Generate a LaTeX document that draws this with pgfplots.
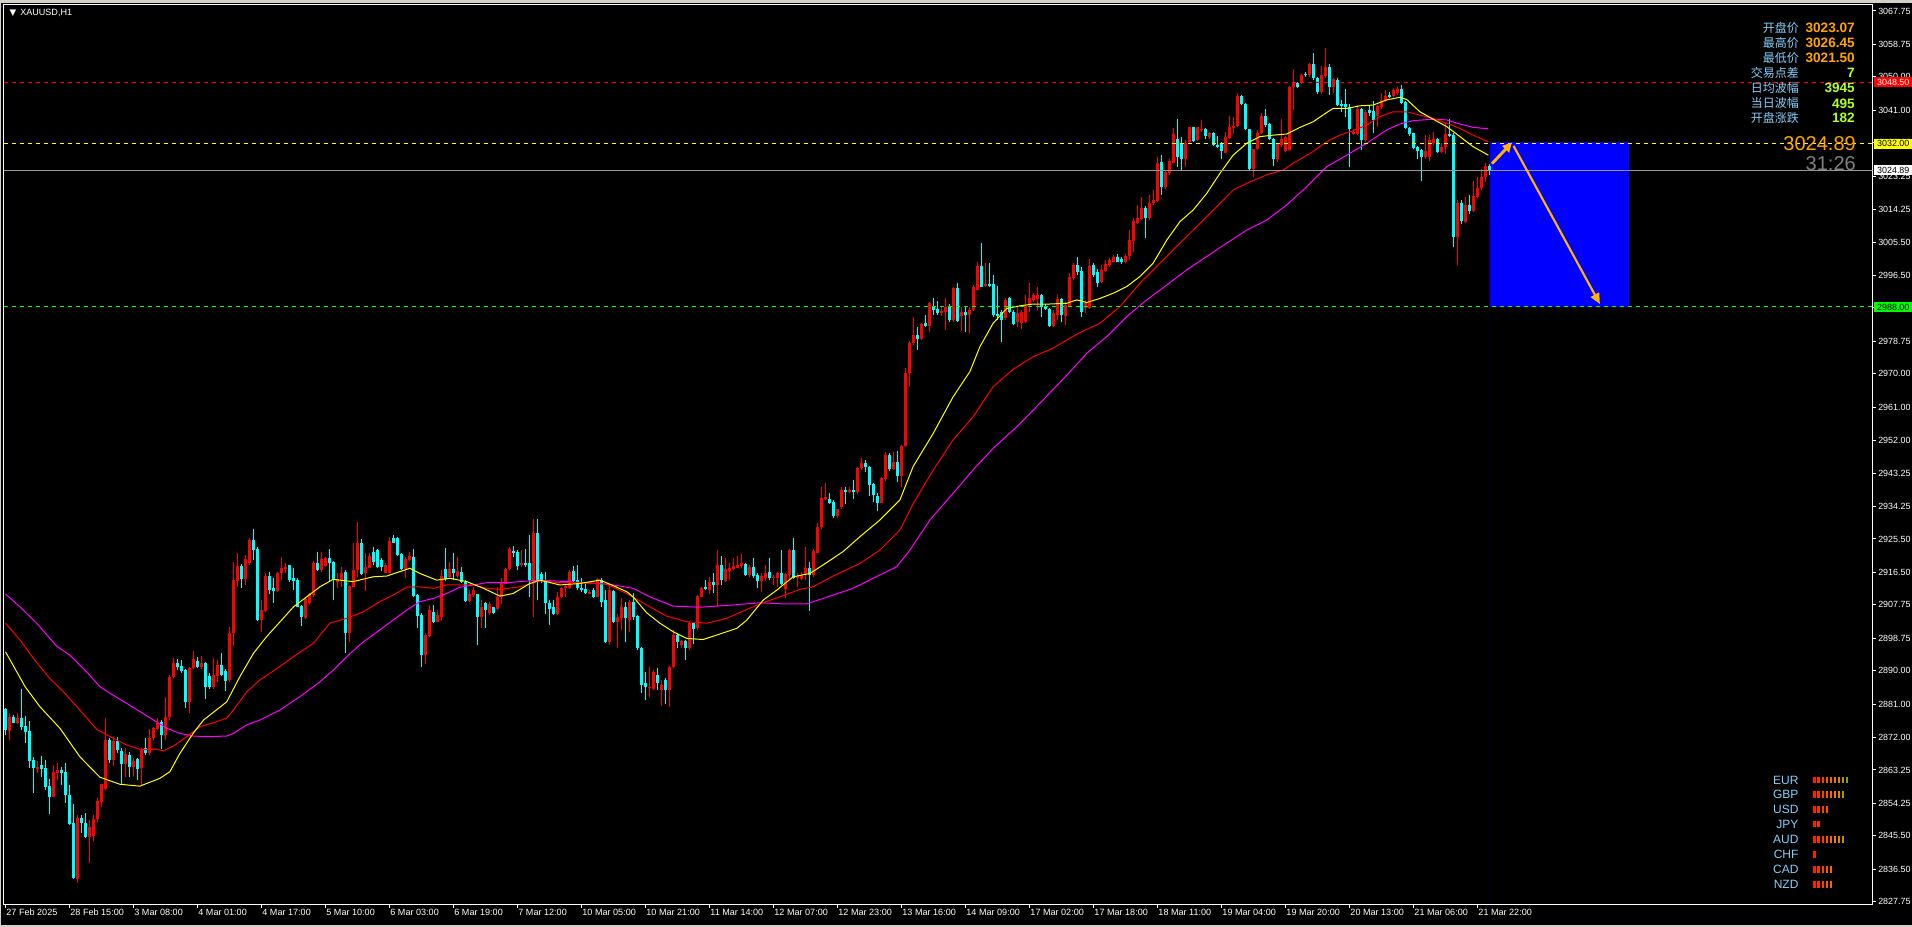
\documentclass[border=0pt]{standalone}
\usepackage{fontspec}
\setmainfont{Liberation Sans}
\newfontfamily\cjk{Noto Sans CJK SC}
\newfontfamily\dejavu{DejaVu Sans}
\usepackage{pgfplots}
\usepackage{pgfplotstable}
\pgfplotsset{compat=1.18}
\usetikzlibrary{arrows.meta}
\definecolor{mtcyan}{RGB}{0,255,255}
\definecolor{mtred}{RGB}{255,0,0}
\definecolor{mtyellow}{RGB}{255,255,0}
\definecolor{mtmag}{RGB}{255,0,255}
\definecolor{mtgreen}{RGB}{0,255,0}
\definecolor{mtblue}{RGB}{0,0,255}
\definecolor{mtgrey}{RGB}{150,150,150}
\definecolor{mtorange}{RGB}{255,165,0}
\definecolor{arrowor}{RGB}{255,180,0}
\definecolor{lblue}{RGB}{135,206,250}
\definecolor{gyellow}{RGB}{173,255,47}
\definecolor{winborder}{RGB}{212,208,200}
\pgfplotsset{colormap={strength}{rgb255=(255,32,0) rgb255=(255,45,0) rgb255=(255,62,0) rgb255=(255,80,0) rgb255=(255,100,0) rgb255=(240,120,0) rgb255=(220,135,0) rgb255=(170,155,0) rgb255=(130,165,0)}}

\pgfplotstableread{
i o h l c
0 2879.6 2879.9 2872.7 2874.0
1 2873.8 2878.5 2871.3 2877.6
2 2877.4 2878.1 2875.8 2876.0
3 2876.0 2878.5 2875.6 2877.2
4 2877.2 2885.2 2874.0 2874.9
5 2875.1 2877.8 2870.6 2873.6
6 2873.7 2876.5 2863.7 2865.7
7 2865.9 2866.8 2857.1 2863.7
8 2863.6 2865.7 2862.3 2864.1
9 2864.6 2867.0 2861.4 2863.6
10 2863.9 2865.9 2857.8 2858.7
11 2858.9 2860.7 2851.3 2856.1
12 2856.1 2864.6 2856.1 2862.8
13 2862.5 2865.2 2860.5 2863.2
14 2863.2 2864.1 2859.2 2862.5
15 2862.7 2865.0 2854.4 2856.6
16 2856.6 2859.2 2848.4 2848.6
17 2849.0 2854.1 2833.8 2834.2
18 2834.0 2851.1 2832.9 2850.2
19 2850.4 2851.1 2846.2 2848.9
20 2849.0 2851.6 2844.8 2845.3
21 2845.3 2849.8 2838.3 2848.0
22 2845.4 2851.1 2844.2 2850.0
23 2850.0 2855.6 2849.3 2854.9
24 2854.7 2859.6 2853.4 2859.5
25 2858.2 2877.2 2857.8 2871.3
26 2871.3 2871.8 2865.0 2865.9
27 2865.9 2872.2 2864.3 2871.1
28 2871.1 2872.2 2867.7 2868.5
29 2868.5 2869.1 2859.2 2865.0
30 2865.0 2869.1 2861.4 2867.5
31 2867.3 2868.2 2861.4 2864.1
32 2864.1 2866.4 2861.6 2865.6
33 2866.1 2866.6 2860.5 2863.4
34 2863.7 2869.1 2858.9 2868.8
35 2869.1 2871.8 2867.3 2867.7
36 2867.7 2874.2 2867.3 2872.0
37 2871.8 2874.9 2871.3 2874.5
38 2874.2 2877.2 2874.0 2876.0
39 2876.2 2876.7 2868.8 2872.7
40 2872.7 2883.0 2871.3 2877.4
41 2877.4 2888.8 2876.7 2888.4
42 2888.2 2893.3 2887.9 2892.0
43 2892.0 2893.1 2890.2 2891.1
44 2891.3 2892.9 2889.3 2890.0
45 2890.2 2890.6 2879.9 2881.6
46 2881.6 2891.1 2878.5 2890.6
47 2890.6 2895.4 2890.6 2893.1
48 2892.6 2893.8 2890.6 2891.1
49 2891.1 2893.9 2890.6 2892.2
50 2892.0 2892.4 2882.3 2885.7
51 2888.6 2889.3 2885.2 2885.5
52 2885.7 2893.3 2885.0 2888.8
53 2888.6 2892.9 2886.8 2891.5
54 2891.6 2894.7 2888.6 2888.8
55 2890.0 2890.4 2884.6 2887.3
56 2887.5 2901.9 2887.0 2900.1
57 2900.1 2919.4 2896.6 2914.4
58 2914.2 2921.6 2912.5 2918.2
59 2918.2 2918.7 2912.2 2914.6
60 2914.6 2921.2 2913.1 2920.0
61 2918.9 2925.7 2918.5 2925.2
62 2925.2 2928.1 2919.8 2922.5
63 2922.7 2923.4 2903.5 2903.6
64 2903.6 2909.0 2900.5 2906.3
65 2906.2 2916.4 2905.9 2915.5
66 2915.5 2916.7 2910.8 2911.7
67 2912.2 2915.1 2908.3 2911.6
68 2911.6 2916.7 2911.3 2916.2
69 2916.2 2920.7 2914.4 2917.7
70 2917.3 2918.9 2916.4 2918.0
71 2918.4 2918.6 2914.0 2914.4
72 2914.9 2917.6 2911.7 2914.2
73 2914.4 2914.9 2907.1 2907.2
74 2907.4 2907.7 2902.0 2904.4
75 2904.1 2909.9 2903.8 2909.2
76 2908.3 2911.0 2908.1 2910.7
77 2910.4 2919.5 2909.9 2919.1
78 2919.1 2922.1 2917.0 2917.1
79 2917.1 2922.1 2916.7 2920.0
80 2918.2 2920.7 2918.0 2920.3
81 2920.4 2922.7 2914.0 2918.9
82 2919.4 2919.5 2909.0 2914.4
83 2914.0 2916.4 2912.2 2914.6
84 2914.4 2918.0 2912.5 2916.4
85 2916.7 2917.1 2894.7 2900.1
86 2900.1 2913.1 2897.8 2912.8
87 2912.6 2924.3 2912.5 2917.1
88 2917.1 2930.1 2915.3 2924.3
89 2924.3 2925.4 2915.8 2916.0
90 2916.2 2921.6 2911.6 2918.0
91 2917.8 2921.8 2917.6 2920.9
92 2922.1 2923.4 2918.5 2919.4
93 2922.5 2922.7 2917.6 2918.0
94 2919.8 2920.3 2917.0 2918.0
95 2916.4 2918.9 2916.2 2918.5
96 2916.4 2925.9 2916.2 2924.9
97 2925.8 2926.7 2924.3 2924.5
98 2925.7 2926.1 2920.9 2921.2
99 2921.4 2921.6 2917.0 2917.3
100 2917.3 2920.7 2914.9 2920.0
101 2919.8 2922.1 2919.6 2920.9
102 2920.5 2922.7 2909.9 2910.1
103 2910.4 2910.7 2901.4 2904.7
104 2905.0 2905.5 2891.1 2894.2
105 2894.2 2900.2 2891.8 2899.6
106 2899.4 2907.7 2899.0 2906.3
107 2905.9 2907.7 2902.9 2903.2
108 2903.2 2906.3 2903.0 2905.0
109 2904.6 2917.0 2903.5 2915.5
110 2917.3 2923.0 2914.2 2914.6
111 2915.3 2919.4 2915.1 2917.3
112 2917.3 2921.8 2914.4 2916.2
113 2915.5 2920.7 2915.1 2916.9
114 2916.7 2918.0 2913.7 2914.0
115 2914.0 2914.4 2908.6 2908.9
116 2908.9 2911.7 2908.6 2910.7
117 2910.4 2912.5 2909.9 2911.7
118 2910.6 2910.8 2896.9 2904.6
119 2904.6 2909.0 2901.4 2907.1
120 2908.3 2908.6 2901.4 2906.3
121 2905.5 2908.6 2905.0 2908.1
122 2907.1 2907.2 2905.3 2905.5
123 2906.5 2912.5 2906.3 2909.9
124 2909.9 2914.9 2907.9 2914.0
125 2913.5 2917.6 2913.4 2917.3
126 2917.3 2923.4 2917.1 2922.7
127 2922.3 2923.6 2920.7 2921.6
128 2922.1 2922.5 2917.1 2918.2
129 2918.4 2922.5 2918.0 2919.1
130 2919.0 2922.7 2918.0 2918.6
131 2918.9 2926.6 2909.9 2914.4
132 2914.4 2930.8 2904.4 2927.2
133 2927.2 2930.8 2909.0 2914.4
134 2916.0 2916.7 2913.5 2914.4
135 2914.4 2916.7 2905.4 2908.3
136 2908.3 2909.0 2902.3 2906.5
137 2907.1 2909.0 2905.0 2905.4
138 2905.4 2911.3 2905.0 2909.9
139 2909.8 2912.6 2909.5 2912.4
140 2912.2 2913.5 2909.8 2912.8
141 2912.2 2917.1 2911.9 2916.7
142 2916.9 2918.2 2914.0 2914.2
143 2914.4 2918.5 2911.7 2912.2
144 2912.4 2914.9 2911.3 2911.9
145 2911.9 2913.5 2910.8 2911.0
146 2910.8 2911.7 2910.7 2911.3
147 2911.7 2912.2 2909.5 2909.9
148 2909.9 2914.9 2909.8 2914.6
149 2914.4 2914.9 2907.2 2908.6
150 2909.0 2911.7 2897.5 2897.8
151 2897.8 2913.5 2896.9 2911.7
152 2911.6 2911.7 2902.9 2903.2
153 2903.2 2905.4 2896.0 2904.5
154 2904.1 2909.5 2901.1 2907.1
155 2907.2 2908.6 2897.8 2904.1
156 2903.6 2909.0 2900.5 2908.6
157 2908.6 2910.8 2903.6 2904.5
158 2904.7 2905.0 2895.7 2896.0
159 2896.0 2896.5 2883.9 2886.1
160 2886.6 2889.7 2882.1 2885.7
161 2885.5 2891.1 2883.0 2885.5
162 2885.2 2890.2 2884.8 2889.7
163 2888.8 2890.6 2884.8 2886.6
164 2884.8 2887.5 2880.5 2886.1
165 2887.5 2887.9 2881.0 2884.8
166 2884.8 2891.2 2880.3 2891.1
167 2891.1 2901.0 2890.6 2899.6
168 2899.6 2900.1 2896.0 2897.8
169 2896.9 2898.3 2896.0 2898.1
170 2898.1 2898.4 2892.9 2896.0
171 2896.0 2903.2 2895.6 2902.8
172 2902.8 2902.9 2897.3 2901.1
173 2901.4 2910.4 2901.0 2910.1
174 2909.9 2912.6 2909.8 2912.2
175 2912.6 2914.4 2911.7 2911.9
176 2911.7 2915.3 2910.8 2914.0
177 2914.0 2916.2 2910.8 2913.1
178 2913.1 2922.5 2907.1 2918.5
179 2918.5 2920.9 2913.1 2914.4
180 2914.2 2920.3 2914.0 2917.3
181 2916.9 2918.9 2914.4 2917.6
182 2917.3 2920.3 2917.1 2918.2
183 2917.8 2920.9 2917.6 2918.5
184 2918.2 2921.4 2917.6 2918.9
185 2918.7 2919.1 2915.5 2915.8
186 2915.8 2918.5 2915.3 2918.0
187 2918.0 2920.3 2914.9 2915.5
188 2915.8 2916.2 2912.2 2914.2
189 2914.2 2916.2 2911.3 2915.5
190 2914.9 2918.5 2914.2 2916.4
191 2916.7 2920.3 2914.4 2914.9
192 2915.1 2915.8 2913.1 2915.3
193 2914.9 2916.7 2912.6 2916.4
194 2916.2 2922.6 2913.1 2913.5
195 2911.9 2916.4 2909.5 2916.0
196 2915.8 2922.7 2914.4 2922.5
197 2922.5 2925.7 2914.6 2914.9
198 2914.9 2916.2 2912.6 2915.5
199 2914.6 2916.7 2914.4 2915.8
200 2915.8 2923.4 2914.4 2917.8
201 2917.6 2919.4 2906.2 2915.8
202 2915.8 2922.9 2915.3 2922.3
203 2921.8 2929.7 2921.6 2928.6
204 2928.6 2939.6 2928.3 2936.4
205 2936.2 2940.7 2936.0 2936.9
206 2936.4 2937.8 2934.9 2935.3
207 2935.5 2936.0 2931.1 2931.7
208 2931.7 2933.7 2931.1 2933.5
209 2934.2 2939.6 2933.7 2938.7
210 2938.7 2939.6 2935.0 2938.2
211 2938.3 2939.4 2937.8 2938.8
212 2938.8 2941.4 2936.4 2938.2
213 2938.2 2945.0 2937.6 2944.5
214 2944.5 2947.2 2944.1 2945.9
215 2945.9 2946.8 2943.6 2945.0
216 2945.0 2945.1 2937.1 2940.0
217 2940.3 2940.7 2935.5 2937.3
218 2937.1 2937.8 2933.1 2935.3
219 2935.3 2942.3 2935.1 2941.8
220 2941.6 2949.0 2941.2 2948.1
221 2948.1 2948.6 2943.9 2944.3
222 2944.3 2949.0 2944.1 2946.3
223 2946.3 2949.3 2940.9 2942.4
224 2942.4 2950.8 2939.4 2950.5
225 2950.5 2971.5 2950.3 2970.1
226 2970.1 2978.7 2966.5 2978.2
227 2978.2 2985.4 2977.8 2980.4
228 2980.4 2982.7 2976.4 2979.3
229 2979.3 2983.8 2979.1 2983.4
230 2983.8 2985.8 2982.5 2982.9
231 2982.9 2989.4 2981.3 2989.0
232 2988.1 2990.3 2985.8 2987.2
233 2987.4 2989.7 2985.8 2986.3
234 2986.5 2987.9 2985.6 2987.0
235 2986.7 2990.3 2981.8 2988.1
236 2987.9 2988.8 2984.0 2984.5
237 2984.5 2993.3 2984.0 2993.0
238 2993.0 2994.4 2984.0 2984.3
239 2985.6 2988.1 2981.6 2986.7
240 2986.7 2988.1 2981.3 2985.8
241 2985.8 2988.1 2980.9 2987.2
242 2987.2 2993.9 2987.0 2993.3
243 2992.7 3000.2 2992.6 2999.0
244 2999.0 3005.3 2993.3 2993.5
245 2993.6 2999.8 2993.5 2994.1
246 2994.1 2999.8 2993.5 2993.6
247 2994.2 2996.6 2985.4 2985.8
248 2986.1 2993.6 2984.5 2985.6
249 2986.7 2987.2 2978.6 2984.5
250 2984.9 2990.3 2984.5 2989.9
251 2990.3 2990.8 2986.5 2986.7
252 2986.7 2987.2 2983.1 2983.4
253 2984.0 2988.1 2982.7 2986.5
254 2983.8 2987.2 2982.0 2986.7
255 2984.0 2991.2 2983.6 2988.3
256 2988.5 2994.4 2986.7 2990.3
257 2989.9 2991.7 2989.4 2991.2
258 2990.1 2993.3 2987.2 2991.2
259 2991.2 2991.4 2985.4 2987.9
260 2988.3 2988.8 2987.2 2987.4
261 2987.4 2987.6 2982.7 2982.9
262 2983.0 2987.2 2982.5 2986.5
263 2985.8 2991.2 2984.5 2990.1
264 2990.1 2990.3 2984.0 2985.8
265 2985.6 2989.4 2983.1 2988.5
266 2988.1 2997.1 2987.9 2996.2
267 2995.7 2999.8 2995.3 2999.3
268 2999.3 3001.4 2996.6 2997.5
269 2997.8 2998.7 2985.2 2986.7
270 2987.6 2989.9 2986.3 2989.0
271 2987.6 3000.8 2987.4 2999.0
272 2999.3 2999.8 2996.2 2996.6
273 2997.5 2998.1 2993.3 2994.5
274 2994.8 2999.3 2994.4 2998.1
275 2997.8 3000.6 2997.5 2999.6
276 2999.3 3001.1 2998.9 3000.6
277 3000.2 3002.0 3000.0 3001.4
278 3001.4 3002.3 3000.0 3000.2
279 3000.8 3001.6 2999.6 3000.0
280 3000.0 3002.3 2999.8 3001.7
281 3001.6 3008.7 3000.6 3006.0
282 3005.9 3011.9 3002.9 3011.3
283 3010.7 3015.5 3010.5 3011.9
284 3011.6 3017.7 3011.4 3014.8
285 3014.8 3015.2 3006.5 3011.9
286 3011.9 3018.2 3011.4 3016.1
287 3015.9 3019.5 3015.5 3016.8
288 3016.6 3028.5 3016.4 3026.9
289 3027.2 3028.9 3018.2 3020.4
290 3020.4 3024.9 3019.9 3024.5
291 3024.2 3028.0 3023.6 3027.2
292 3026.9 3036.1 3026.7 3034.6
293 3033.4 3038.6 3025.8 3028.5
294 3032.1 3033.7 3024.9 3028.0
295 3028.0 3033.0 3025.6 3032.1
296 3032.5 3036.6 3032.3 3036.4
297 3036.4 3036.6 3032.5 3032.8
298 3033.0 3036.6 3032.8 3036.4
299 3035.7 3038.4 3035.2 3036.0
300 3035.9 3036.1 3033.4 3034.1
301 3033.9 3035.2 3033.4 3034.8
302 3035.0 3035.2 3031.4 3031.6
303 3031.6 3034.1 3030.7 3031.4
304 3031.9 3032.5 3027.8 3030.1
305 3029.6 3035.2 3029.4 3033.9
306 3033.4 3039.5 3033.2 3036.4
307 3036.4 3039.3 3034.8 3036.8
308 3036.8 3045.6 3036.4 3044.8
309 3044.8 3045.1 3042.4 3042.7
310 3042.7 3043.0 3035.7 3035.9
311 3035.9 3036.0 3024.9 3025.1
312 3025.1 3030.7 3023.1 3030.5
313 3030.5 3035.7 3030.3 3034.8
314 3034.8 3040.2 3034.6 3039.5
315 3039.5 3041.3 3036.4 3037.0
316 3037.3 3037.7 3033.0 3033.2
317 3033.2 3033.4 3026.0 3027.8
318 3027.8 3032.3 3027.2 3031.9
319 3031.6 3038.6 3031.2 3033.4
320 3030.1 3034.1 3029.8 3033.7
321 3030.3 3047.5 3030.1 3047.2
322 3047.2 3052.0 3041.1 3048.4
323 3048.4 3048.7 3046.9 3047.4
324 3048.4 3050.9 3048.1 3050.5
325 3050.9 3051.4 3050.1 3050.5
326 3050.5 3053.8 3050.1 3053.5
327 3053.5 3056.5 3049.3 3049.6
328 3049.6 3050.1 3045.4 3046.0
329 3046.0 3052.9 3045.4 3050.5
330 3050.2 3057.7 3049.6 3052.7
331 3052.6 3053.6 3045.1 3047.2
332 3047.2 3049.6 3045.6 3049.3
333 3049.3 3049.6 3042.2 3042.4
334 3042.7 3043.9 3040.6 3042.2
335 3042.7 3046.6 3039.1 3041.8
336 3041.8 3042.7 3025.8 3035.9
337 3034.6 3035.9 3034.3 3035.2
338 3034.6 3042.4 3034.3 3041.3
339 3041.3 3041.5 3030.3 3033.0
340 3033.0 3041.1 3032.5 3040.6
341 3041.1 3042.2 3039.5 3040.2
342 3040.9 3043.6 3034.8 3038.4
343 3039.5 3042.4 3036.6 3042.2
344 3041.8 3045.6 3041.3 3043.8
345 3043.6 3046.5 3043.3 3044.8
346 3045.1 3046.0 3044.2 3044.5
347 3044.8 3046.9 3044.7 3046.5
348 3045.6 3047.2 3045.1 3046.6
349 3046.6 3047.8 3042.7 3043.0
350 3043.3 3043.6 3035.9 3036.1
351 3036.1 3036.6 3034.1 3034.6
352 3034.8 3035.0 3030.5 3030.7
353 3031.0 3031.4 3028.0 3030.1
354 3030.3 3030.7 3022.0 3028.3
355 3028.3 3034.3 3028.0 3030.1
356 3028.5 3034.3 3027.4 3033.0
357 3032.3 3035.2 3031.6 3033.2
358 3033.2 3033.4 3029.6 3029.8
359 3029.8 3032.3 3029.4 3031.2
360 3031.0 3037.9 3029.2 3034.6
361 3034.6 3038.6 3033.7 3034.1
362 3034.3 3034.8 3004.2 3006.9
363 3006.9 3016.8 2999.3 3016.1
364 3016.1 3016.8 3010.4 3011.3
365 3011.0 3017.7 3010.7 3015.5
366 3015.5 3018.2 3013.0 3013.9
367 3013.9 3022.0 3013.7 3017.9
368 3017.7 3023.1 3017.3 3020.0
369 3020.0 3025.1 3019.5 3023.1
370 3023.1 3026.7 3021.8 3026.0
371 3025.9 3026.5 3023.5 3024.9
}\candles

\pgfplotstableread{
x y k
452.25 2860.54 1
453.27 2860.54 2
454.29 2860.54 3
455.30 2860.54 4
456.32 2860.54 5
457.34 2860.54 6
458.36 2860.54 7
459.37 2860.54 8
460.39 2860.54 9
452.25 2856.69 1
453.27 2856.69 2
454.29 2856.69 3
455.30 2856.69 4
456.32 2856.69 5
457.34 2856.69 6
458.36 2856.69 7
459.37 2856.69 8
452.25 2852.65 1
453.27 2852.65 2
454.29 2852.65 3
455.30 2852.65 4
452.25 2848.69 1
453.27 2848.69 2
452.25 2844.56 1
453.27 2844.56 2
454.29 2844.56 3
455.30 2844.56 4
456.32 2844.56 5
457.34 2844.56 6
458.36 2844.56 7
459.37 2844.56 8
452.25 2840.52 1
452.25 2836.48 1
453.27 2836.48 2
454.29 2836.48 3
455.30 2836.48 4
456.32 2836.48 5
452.25 2832.44 1
453.27 2832.44 2
454.29 2832.44 3
455.30 2832.44 4
456.32 2832.44 5
}\strength

\begin{document}
\begin{tikzpicture}
\useasboundingbox (0,0) rectangle (1434pt,-695.25pt);
\fill[black] (0,0) rectangle (1434pt,-695.25pt);
\fill[winborder] (0,0) rectangle (1434pt,-2.25pt);
\fill[winborder] (0,0) rectangle (0.75pt,-695.25pt);
\fill[winborder] (0,-693.75pt) rectangle (1434pt,-695.25pt);
\begin{axis}[
  at={(2.625pt,-3.375pt)}, anchor=north west,
  width=1401.75pt, height=675pt, scale only axis,
  xmin=-0.5, xmax=466.75, ymin=2827.0, ymax=3069.5,
  axis background/.style={fill=black},
  axis line style={white, line width=0.75pt},
  clip mode=individual,
  colormap name=strength, point meta min=1, point meta max=9,
  tick align=outside,
  major tick length=2.6pt,
  major tick style={white, line width=0.75pt},
  xtick pos=bottom, ytick pos=right,
  yticklabel pos=right,
  xtick={0,16,...,368},
  xticklabels={27 Feb 2025,28 Feb 15:00,3 Mar 08:00,4 Mar 01:00,4 Mar 17:00,5 Mar 10:00,6 Mar 03:00,6 Mar 19:00,7 Mar 12:00,10 Mar 05:00,10 Mar 21:00,11 Mar 14:00,12 Mar 07:00,12 Mar 23:00,13 Mar 16:00,14 Mar 09:00,17 Mar 02:00,17 Mar 18:00,18 Mar 11:00,19 Mar 04:00,19 Mar 20:00,20 Mar 13:00,21 Mar 06:00,21 Mar 22:00},
  xticklabel style={anchor=north west, inner sep=0pt, xshift=0.5pt, yshift=-0.6pt, text=white, font=\fontsize{6.8}{8}\selectfont},
  ytick={2827.75,2836.50,2845.50,2854.25,2863.25,2872.00,2881.00,2890.00,2898.75,2907.75,2916.50,2925.50,2934.25,2943.25,2952.00,2961.00,2970.00,2978.75,2987.75,2996.50,3005.50,3014.25,3023.25,3032.25,3041.00,3050.00,3058.75,3067.75},
  yticklabel style={anchor=west, inner sep=0pt, xshift=1.5pt, text=white, font=\fontsize{6.7}{8}\selectfont},
  scaled y ticks=false,
  /pgf/number format/.cd, fixed, fixed zerofill, precision=2, 1000 sep={}, assume math mode=true
]
% target rectangle
\addplot[fill=mtblue, draw=none, forget plot] coordinates {(371,2988) (405.9,2988) (405.9,3032.5) (371,3032.5)} \closedcycle;

% candles: wicks and bodies
\addplot[draw=none, mark=none, forget plot,
  restrict expr to domain={\thisrow{c}-\thisrow{o}}{0:1000},
  error bars/.cd, y dir=both, y explicit, error mark=none,
  error bar style={draw=mtred, line width=0.75pt}]
  table[x=i, y expr={(\thisrow{h}+\thisrow{l})/2}, y error expr={(\thisrow{h}-\thisrow{l})/2}]{\candles};
\addplot[draw=none, mark=none, forget plot,
  restrict expr to domain={\thisrow{c}-\thisrow{o}}{-1000:-0.00001},
  error bars/.cd, y dir=both, y explicit, error mark=none,
  error bar style={draw=mtcyan, line width=0.75pt}]
  table[x=i, y expr={(\thisrow{h}+\thisrow{l})/2}, y error expr={(\thisrow{h}-\thisrow{l})/2}]{\candles};
\addplot[draw=none, mark=none, forget plot,
  restrict expr to domain={\thisrow{c}-\thisrow{o}}{0:1000},
  error bars/.cd, y dir=both, y explicit, error mark=none,
  error bar style={draw=mtred, line width=2.25pt}]
  table[x=i, y expr={(\thisrow{o}+\thisrow{c})/2}, y error expr={max(abs(\thisrow{c}-\thisrow{o})/2,0.12)}]{\candles};
\addplot[draw=none, mark=none, forget plot,
  restrict expr to domain={\thisrow{c}-\thisrow{o}}{-1000:-0.00001},
  error bars/.cd, y dir=both, y explicit, error mark=none,
  error bar style={draw=mtcyan, line width=2.25pt}]
  table[x=i, y expr={(\thisrow{o}+\thisrow{c})/2}, y error expr={max(abs(\thisrow{c}-\thisrow{o})/2,0.12)}]{\candles};

% moving averages
\addplot[mtmag, line width=0.75pt, mark=none] coordinates {(0,2910.7) (3.6,2907.2) (7.8,2902.8) (12.8,2896.6) (16.1,2894.2) (20.3,2889.7) (23.6,2885.7) (26.9,2883.4) (30.3,2881.2) (33.6,2879.0) (37.0,2876.7) (40.3,2874.5) (43.6,2873.1) (47.0,2872.4) (50.3,2872.2) (55.3,2872.4) (57.0,2873.1) (60.3,2875.4) (63.6,2876.7) (68.6,2879.4) (73.6,2883.0) (78.6,2887.0) (82.0,2890.2) (85.3,2893.8) (89.5,2897.8) (93.6,2901.0) (97.0,2903.7) (100.3,2906.3) (103.6,2908.6) (107.0,2909.5) (110.3,2910.8) (113.6,2912.5) (117.0,2913.1) (120.3,2913.7) (125.3,2913.7) (128.6,2914.0) (133.6,2914.4) (140.3,2914.0) (148.6,2913.5) (151.9,2913.1) (156.9,2912.2) (161.1,2909.9) (166.9,2907.4) (173.6,2907.1) (181.9,2907.7) (188.6,2908.3) (194.4,2908.0) (200.3,2908.0) (205.3,2909.8) (211.9,2912.2) (218.6,2915.8) (222.8,2918.0) (226.1,2922.5) (231.1,2930.6) (236.9,2937.8) (241.9,2944.1) (246.9,2949.9) (253.3,2956.2) (259.9,2963.5) (266.5,2971.0) (270.3,2975.5) (275.3,2980.0) (280.3,2985.4) (285.3,2989.9) (290.3,2993.9) (295.3,2998.0) (300.3,3001.6) (305.3,3005.2) (310.3,3008.7) (315.3,3011.4) (320.3,3015.5) (325.3,3020.4) (330.3,3025.8) (335.3,3028.9) (340.3,3032.1) (345.3,3035.7) (348.6,3037.3) (351.9,3038.2) (356.9,3038.6) (360.3,3038.4) (363.6,3037.3) (366.9,3036.4) (370.7,3036.0)};
\addplot[mtred, line width=0.75pt, mark=none] coordinates {(0,2902.8) (3.6,2898.3) (7.0,2893.3) (11.1,2887.9) (14.5,2884.3) (18.6,2879.4) (22.8,2874.2) (26.9,2871.8) (30.3,2870.0) (33.6,2868.8) (37.8,2868.8) (39.5,2868.4) (42.0,2869.7) (45.3,2872.2) (48.6,2874.9) (52.0,2876.0) (55.3,2877.2) (57.0,2879.4) (60.3,2884.3) (63.6,2887.5) (68.6,2891.1) (72.0,2893.8) (77.0,2897.4) (81.1,2902.8) (85.3,2904.1) (89.5,2905.9) (93.6,2908.6) (97.0,2910.4) (100.3,2912.5) (103.6,2912.6) (107.0,2912.2) (110.3,2913.1) (113.6,2913.1) (117.0,2913.1) (120.3,2912.2) (123.6,2911.9) (128.6,2912.6) (133.6,2914.2) (138.6,2913.7) (143.6,2913.7) (150.3,2913.3) (155.3,2910.8) (160.3,2907.7) (165.3,2904.7) (170.3,2903.2) (175.3,2902.8) (180.3,2904.1) (185.3,2906.5) (189.4,2908.3) (193.6,2909.9) (198.6,2911.9) (201.9,2912.6) (206.9,2915.5) (213.6,2918.9) (218.6,2922.5) (223.6,2927.9) (226.9,2935.0) (231.9,2944.0) (236.9,2952.2) (241.9,2958.4) (246.9,2966.5) (251.9,2971.2) (256.9,2974.6) (261.9,2976.9) (265.3,2979.1) (268.6,2981.1) (273.6,2983.6) (278.6,2988.1) (283.6,2994.4) (288.6,2999.8) (293.6,3005.2) (298.6,3010.5) (303.6,3015.9) (306.9,3019.5) (310.3,3021.3) (315.3,3023.6) (319.4,3024.9) (321.9,3026.7) (326.9,3029.9) (330.3,3032.5) (333.6,3034.3) (336.9,3035.5) (340.3,3037.0) (343.6,3039.3) (346.9,3040.6) (350.3,3040.6) (353.6,3039.7) (356.9,3038.8) (360.3,3037.5) (363.6,3036.1) (366.9,3034.3) (370.7,3032.5)};
\addplot[mtyellow, line width=0.75pt, mark=none] coordinates {(0,2895.1) (4.9,2885.7) (8.6,2880.3) (13.6,2874.5) (18.6,2866.8) (23.6,2861.3) (28.6,2859.4) (33.6,2858.9) (38.6,2861.0) (41.1,2862.8) (43.6,2867.7) (46.9,2873.1) (49.5,2876.7) (55.3,2881.6) (58.6,2888.4) (62.0,2894.7) (65.3,2899.2) (72.0,2907.2) (78.6,2912.6) (81.9,2914.6) (86.9,2914.0) (91.9,2915.3) (95.3,2915.5) (98.6,2916.7) (101.1,2917.6) (103.6,2916.2) (107.8,2914.4) (111.1,2914.9) (115.3,2914.0) (119.5,2912.2) (123.6,2910.1) (126.9,2910.8) (131.1,2913.5) (133.6,2914.4) (138.6,2913.1) (143.6,2913.5) (148.6,2914.4) (151.1,2913.3) (155.3,2911.3) (156.9,2909.9) (160.3,2905.6) (163.6,2902.8) (166.9,2900.5) (170.3,2898.7) (174.4,2898.4) (177.8,2899.6) (182.8,2901.4) (185.3,2903.6) (189.4,2909.0) (192.8,2911.7) (196.9,2915.3) (201.1,2916.2) (204.4,2918.5) (209.4,2922.1) (213.6,2926.1) (218.6,2930.6) (223.6,2936.0) (226.9,2945.0) (231.9,2953.9) (236.9,2963.8) (241.1,2970.6) (243.6,2977.3) (246.9,2983.6) (250.3,2987.6) (253.6,2988.3) (256.9,2988.8) (261.1,2988.8) (265.3,2989.0) (267.8,2989.9) (270.3,2989.2) (273.6,2990.3) (276.9,2991.7) (280.3,2993.5) (283.6,2996.2) (286.9,2999.8) (290.3,3006.0) (293.6,3011.0) (296.9,3014.1) (300.3,3018.6) (303.6,3024.0) (306.9,3028.9) (310.3,3032.1) (313.6,3033.9) (316.9,3034.3) (320.3,3034.6) (323.6,3036.4) (326.9,3037.9) (330.3,3040.4) (331.9,3041.5) (335.3,3041.5) (338.6,3042.2) (341.9,3042.4) (345.3,3043.8) (348.6,3044.5) (350.3,3043.9) (353.6,3040.6) (356.9,3038.6) (360.3,3036.6) (363.6,3033.9) (366.9,3031.2) (370.7,3028.9)};

% horizontal levels
\addplot[mtred, line width=0.75pt, dash pattern=on 3pt off 3pt, mark=none] coordinates {(-0.5,3048.5) (466.75,3048.5)};
\addplot[mtyellow, line width=0.75pt, dash pattern=on 3pt off 3pt, mark=none] coordinates {(-0.5,3032.0) (466.75,3032.0)};
\addplot[mtgreen, line width=0.75pt, dash pattern=on 3pt off 3pt, mark=none] coordinates {(-0.5,2988.0) (466.75,2988.0)};
\addplot[mtgrey, line width=0.75pt, mark=none] coordinates {(-0.5,3024.89) (466.75,3024.89)};

% arrows
\addplot[arrowor, line width=2.2pt, mark=none, -{Triangle[length=7pt, width=7pt]}] coordinates {(371.6,3026.6) (376.6,3032.3)};
\addplot[arrowor, line width=1.6pt, mark=none, -{Triangle[length=8pt, width=7pt]}] coordinates {(377.0,3031.4) (398.6,2988.8)};

% currency strength blocks
\addplot[scatter, only marks, mark=|, mark size=2.5pt, point meta=explicit,
  scatter/use mapped color={draw=mapped color, fill=mapped color},
  mark options={line width=1.75pt}]
  table[x=x, y=y, meta=k]{\strength};

% right-side price boxes
\begin{scope}[every node/.style={anchor=west, inner sep=0pt, minimum width=28.5pt, minimum height=7.5pt, font=\fontsize{6.7}{8}\selectfont}]
\node[fill=mtred, text=white] at ([xshift=1.1pt]axis cs:466.75,3048.5) {3048.50};
\node[fill=mtyellow, text=black] at ([xshift=1.1pt]axis cs:466.75,3032.0) {3032.00};
\node[fill=white, text=black] at ([xshift=1.1pt]axis cs:466.75,3024.89) {3024.89};
\node[fill=mtgreen, text=black] at ([xshift=1.1pt]axis cs:466.75,2988.0) {2988.00};
\end{scope}
\end{axis}

% title
\node[anchor=west, text=white, inner sep=0pt, font=\fontsize{6.8}{8}\selectfont] at (7pt,-9.75pt) {{\dejavu\fontsize{6.5}{7}\selectfont ▼}\hspace{3pt}XAUUSD,H1};

% big price & countdown
\node[anchor=east, text=mtorange, inner sep=0pt, font=\fontsize{15}{16}\selectfont] at (1392pt,-107.5pt) {3024.89};
\node[anchor=east, text=gray, inner sep=0pt, font=\fontsize{15}{16}\selectfont] at (1392pt,-122.5pt) {31:26};

% info panel
\begin{scope}[every node/.style={inner sep=0pt}]
\node[anchor=east, text=lblue, font=\cjk\fontsize{9}{10}\selectfont] at (1349.25pt,-21.2pt) {开盘价};
\node[anchor=east, text=lblue, font=\cjk\fontsize{9}{10}\selectfont] at (1349.25pt,-32.2pt) {最高价};
\node[anchor=east, text=lblue, font=\cjk\fontsize{9}{10}\selectfont] at (1349.25pt,-43.7pt) {最低价};
\node[anchor=east, text=lblue, font=\cjk\fontsize{9}{10}\selectfont] at (1349.25pt,-54.5pt) {交易点差};
\node[anchor=east, text=lblue, font=\cjk\fontsize{9}{10}\selectfont] at (1349.25pt,-66.2pt) {日均波幅};
\node[anchor=east, text=lblue, font=\cjk\fontsize{9}{10}\selectfont] at (1349.25pt,-77.5pt) {当日波幅};
\node[anchor=east, text=lblue, font=\cjk\fontsize{9}{10}\selectfont] at (1349.25pt,-88.7pt) {开盘涨跌};
\node[anchor=east, text=mtorange, font=\bfseries\fontsize{10.2}{11}\selectfont] at (1391.25pt,-21.2pt) {3023.07};
\node[anchor=east, text=mtorange, font=\bfseries\fontsize{10.2}{11}\selectfont] at (1391.25pt,-32.2pt) {3026.45};
\node[anchor=east, text=mtorange, font=\bfseries\fontsize{10.2}{11}\selectfont] at (1391.25pt,-43.7pt) {3021.50};
\node[anchor=east, text=gyellow, font=\bfseries\fontsize{10.2}{11}\selectfont] at (1391.25pt,-54.5pt) {7};
\node[anchor=east, text=gyellow, font=\bfseries\fontsize{10.2}{11}\selectfont] at (1391.25pt,-66.2pt) {3945};
\node[anchor=east, text=gyellow, font=\bfseries\fontsize{10.2}{11}\selectfont] at (1391.25pt,-77.5pt) {495};
\node[anchor=east, text=gyellow, font=\bfseries\fontsize{10.2}{11}\selectfont] at (1391.25pt,-88.7pt) {182};
% strength labels
\node[anchor=east, text=lblue, font=\fontsize{9}{10}\selectfont] at (1349pt,-585pt) {EUR};
\node[anchor=east, text=lblue, font=\fontsize{9}{10}\selectfont] at (1349pt,-595.7pt) {GBP};
\node[anchor=east, text=lblue, font=\fontsize{9}{10}\selectfont] at (1349pt,-607pt) {USD};
\node[anchor=east, text=lblue, font=\fontsize{9}{10}\selectfont] at (1349pt,-618pt) {JPY};
\node[anchor=east, text=lblue, font=\fontsize{9}{10}\selectfont] at (1349pt,-629.5pt) {AUD};
\node[anchor=east, text=lblue, font=\fontsize{9}{10}\selectfont] at (1349pt,-640.7pt) {CHF};
\node[anchor=east, text=lblue, font=\fontsize{9}{10}\selectfont] at (1349pt,-652pt) {CAD};
\node[anchor=east, text=lblue, font=\fontsize{9}{10}\selectfont] at (1349pt,-663.2pt) {NZD};
\end{scope}
\end{tikzpicture}
\end{document}
